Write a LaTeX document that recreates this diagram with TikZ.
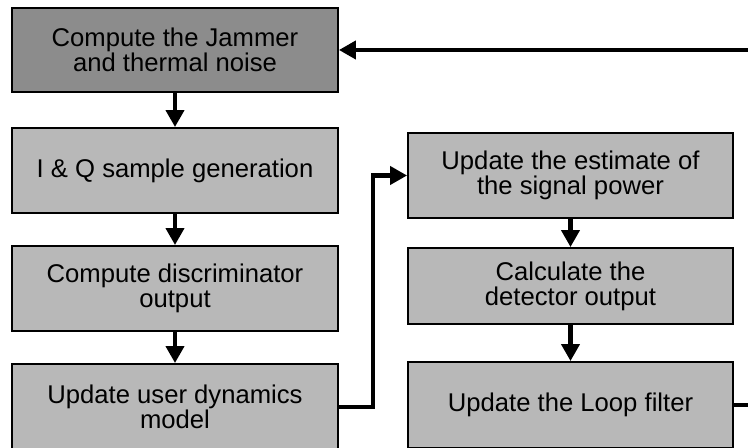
\documentclass[tikz,border=0pt]{standalone}
\usepackage{fontspec}
\setmainfont{Liberation Sans}
\usetikzlibrary{arrows.meta, positioning}

\begin{document}
\begin{tikzpicture}[x=0.02cm, y=-0.02cm,
		box/.style={draw=black, line width=1.1pt, fill=black!28, minimum width=6.52cm, minimum height=1.7cm, align=center, inner sep=0pt, font=\fontsize{14.6}{14.2}\selectfont},
		darkbox/.style={box, fill=black!45},
		conn/.style={line width=2.3pt, -{Triangle[length=0.34cm, width=0.36cm]}}]
		% Frame
		\useasboundingbox (0,0) rectangle (748,448);
		\clip (0,0) rectangle (748,448);
		% Left column
		\node[darkbox, minimum height=1.68cm] (jammer) at (175,50) {Compute the Jammer\\and thermal noise};
		\node[box] (iq) at (175,170.5) {I \& Q sample generation};
		\node[box] (disc) at (175,288.5) {Compute discriminator\\output};
		\node[box, minimum height=1.72cm] (dyn) at (175,407) {Update user dynamics\\model};
		% Right column
		\node[box, minimum width=6.5cm] (power) at (570.5,175.5) {Update the estimate of\\the signal power};
		\node[box, minimum width=6.5cm, minimum height=1.52cm] (detect) at (570.5,286) {Calculate the\\detector output};
		\node[box, minimum width=6.5cm, minimum height=1.72cm] (loop) at (570.5,405) {Update the Loop filter};
		% Arrows
		\draw[conn] (jammer) -- (iq);
		\draw[conn] (iq) -- (disc);
		\draw[conn] (disc) -- (dyn);
		\draw[conn] (power) -- (detect);
		\draw[conn] (detect) -- (loop);
		% Cross-over and feedback
		\coordinate (bend) at (373,407);
		\draw[conn] (dyn.east) -- (bend) |- (power.west);
		\coordinate (back) at (790,405);
		\draw[conn] (loop.east) -- (back) |- (jammer.east);
	\end{tikzpicture}
\end{document}
